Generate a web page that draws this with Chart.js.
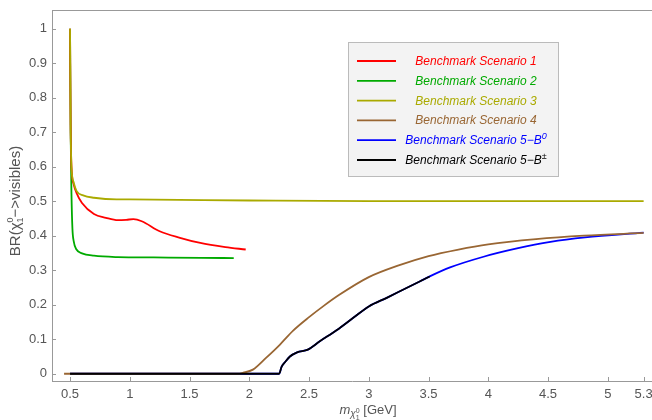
<!DOCTYPE html>
<html>
<head>
<meta charset="utf-8">
<script src="https://cdn.jsdelivr.net/npm/chart.js@4.4.1/dist/chart.umd.min.js"></script>
<style>
html,body{margin:0;padding:0;background:#fff;}
canvas{display:block;}
</style>
</head>
<body>
<canvas id="c" width="652" height="420"></canvas>
<script>
// ---- data ----
const s1X = [0.5, 0.505, 0.512, 0.53, 0.554, 0.6, 0.7, 0.8, 0.9, 0.97, 1.03, 1.1, 1.25, 1.42, 1.59, 1.8, 1.97];
const s1Y = [1.0, 0.72, 0.6, 0.55, 0.524, 0.495, 0.463, 0.452, 0.445, 0.446, 0.448, 0.442, 0.413, 0.394, 0.379, 0.367, 0.36];

const s2X = [0.5, 0.505, 0.512, 0.52, 0.53, 0.554, 0.6, 0.7, 0.9, 1.2, 1.6, 1.87];
const s2Y = [1.0, 0.70, 0.52, 0.42, 0.385, 0.36, 0.349, 0.342, 0.338, 0.337, 0.336, 0.335];

const s3X = [0.5, 0.505, 0.512, 0.53, 0.554, 0.61, 0.7, 0.89, 1.0, 2.0, 3.0, 5.3];
const s3Y = [1.0, 0.72, 0.6, 0.555, 0.53, 0.517, 0.51, 0.505, 0.505, 0.502, 0.5, 0.5];

const s4X = [0.45, 1.9, 1.95, 2.03, 2.14, 2.255, 2.367, 2.5, 2.62, 2.75, 3.0, 3.25, 3.5, 3.75, 4.0, 4.4, 4.8, 5.3];
const s4Y = [0, 0, 0.003, 0.012, 0.046, 0.084, 0.125, 0.164, 0.196, 0.228, 0.28, 0.314, 0.341, 0.36, 0.375, 0.39, 0.4, 0.408];

const s5B0X = [0.5, 2.25, 2.27, 2.3, 2.34, 2.4, 2.49, 2.59, 2.73, 2.87, 3.0, 3.15, 3.29, 3.43, 3.51, 3.68, 3.96, 4.24, 4.52, 4.81, 5.3];
const s5B0Y = [0, 0, 0.02, 0.034, 0.05, 0.062, 0.07, 0.094, 0.126, 0.162, 0.195, 0.22, 0.244, 0.268, 0.282, 0.308, 0.339, 0.363, 0.382, 0.395, 0.409];

const s5BpmX = [0.5, 2.25, 2.27, 2.3, 2.34, 2.4, 2.49, 2.59, 2.73, 2.87, 3.0, 3.15, 3.29, 3.43, 3.51];
const s5BpmY = [0, 0, 0.02, 0.034, 0.05, 0.062, 0.07, 0.094, 0.126, 0.162, 0.195, 0.22, 0.244, 0.268, 0.282];

const legendLabels = ['Benchmark Scenario 1', 'Benchmark Scenario 2', 'Benchmark Scenario 3', 'Benchmark Scenario 4', 'Benchmark Scenario 5\u2212B', 'Benchmark Scenario 5\u2212B'];
const legendSup = ['', '', '', '', '0', '\u00b1'];

const xTicks = [0.5, 1, 1.5, 2, 2.5, 3, 3.5, 4, 4.5, 5, 5.3];
const xTickLabels = ['0.5', '1', '1.5', '2', '2.5', '3', '3.5', '4', '4.5', '5', '5.3'];
const yTicks = [0, 0.1, 0.2, 0.3, 0.4, 0.5, 0.6, 0.7, 0.8, 0.9, 1];
const yTickLabels = ['0', '0.1', '0.2', '0.3', '0.4', '0.5', '0.6', '0.7', '0.8', '0.9', '1'];

// ---- styling ----
const colors = ['#ff0000', '#00aa00', '#aaaa00', 'rgb(153,102,51)', '#0000ff', '#000000'];
const FONT = "'Liberation Sans', Arial, sans-serif";
const AXIS_COLOR = '#999999';
const TEXT_COLOR = '#555555';

function pts(xs, ys) { return xs.map((x, i) => ({x: x, y: ys[i]})); }
const seriesX = [s1X, s2X, s3X, s4X, s5B0X, s5BpmX];
const seriesY = [s1Y, s2Y, s3Y, s4Y, s5B0Y, s5BpmY];
// drawing order: lower order drawn on top
const drawOrder = [3, 4, 1, 5, 6, 0];

const datasets = seriesX.map((xs, i) => ({
  label: legendLabels[i] + legendSup[i],
  data: pts(xs, seriesY[i]),
  borderColor: colors[i],
  backgroundColor: colors[i],
  borderWidth: 1.8,
  pointRadius: 0,
  pointHoverRadius: 0,
  fill: false,
  cubicInterpolationMode: 'monotone',
  order: drawOrder[i]
}));

function drawParts(ctx, parts, x, y, align) {
  let total = 0;
  parts.forEach(p => { ctx.font = p.font; p.w = ctx.measureText(p.text).width; total += p.w; });
  let cx = align === 'center' ? x - total / 2 : x;
  parts.forEach(p => {
    p.x = cx;
    ctx.font = p.font;
    ctx.fillStyle = p.color;
    ctx.textAlign = 'left';
    ctx.textBaseline = 'alphabetic';
    ctx.fillText(p.text, cx, y + (p.dy || 0));
    cx += p.w;
  });
  return parts;
}

const decor = {
  id: 'decor',
  afterDraw(chart) {
    const ctx = chart.ctx;
    const a = chart.chartArea;
    const xs = chart.scales.x, ys = chart.scales.y;
    ctx.save();
    // top frame line
    ctx.strokeStyle = AXIS_COLOR;
    ctx.lineWidth = 1;
    ctx.beginPath();
    ctx.moveTo(a.left, Math.round(a.top) + 0.5);
    ctx.lineTo(a.right, Math.round(a.top) + 0.5);
    ctx.stroke();
    // inward ticks
    ctx.beginPath();
    xTicks.forEach(v => {
      const px = Math.round(xs.getPixelForValue(v)) + 0.5;
      ctx.moveTo(px, a.bottom);
      ctx.lineTo(px, a.bottom - 4);
    });
    yTicks.forEach(v => {
      const py = Math.round(ys.getPixelForValue(v)) + 0.5;
      ctx.moveTo(a.left, py);
      ctx.lineTo(a.left + 4, py);
    });
    ctx.stroke();

    // legend box
    const bx = 348.5, by = 42.5, bw = 210, bh = 134;
    ctx.fillStyle = '#f3f3f3';
    ctx.fillRect(bx, by, bw, bh);
    ctx.strokeStyle = '#bbbbbb';
    ctx.strokeRect(bx, by, bw, bh);
    for (let i = 0; i < legendLabels.length; i++) {
      const ry = 61 + i * 19.8;
      ctx.strokeStyle = colors[i];
      ctx.lineWidth = 1.8;
      ctx.beginPath();
      ctx.moveTo(357, ry);
      ctx.lineTo(396, ry);
      ctx.stroke();
      const parts = [{text: legendLabels[i], font: 'italic 12px ' + FONT, color: colors[i]}];
      if (legendSup[i]) parts.push({text: legendSup[i], font: 'italic 9px ' + FONT, color: colors[i], dy: -5});
      drawParts(ctx, parts, 476, ry + 4, 'center');
    }

    // x-axis title
    const xp = drawParts(ctx, [
      {text: 'm', font: 'italic 13px ' + FONT, color: TEXT_COLOR},
      {text: '\u03c7', font: 'italic 10px ' + FONT, color: TEXT_COLOR, dy: 3},
      {text: '0', font: '7px ' + FONT, color: TEXT_COLOR, dy: -1},
      {text: ' [GeV]', font: '13px ' + FONT, color: TEXT_COLOR}
    ], 368, 414, 'center');
    ctx.font = '7px ' + FONT;
    ctx.fillStyle = TEXT_COLOR;
    ctx.fillText('1', xp[2].x, 414 + 6);

    // y-axis title (rotated)
    ctx.translate(15, 201);
    ctx.rotate(-Math.PI / 2);
    const yp = drawParts(ctx, [
      {text: 'BR(\u03c7', font: '15px ' + FONT, color: TEXT_COLOR},
      {text: '0', font: '9px ' + FONT, color: TEXT_COLOR, dy: -7},
      {text: '\u2212>visibles)', font: '15px ' + FONT, color: TEXT_COLOR}
    ], 0, 5, 'center');
    ctx.font = '9px ' + FONT;
    ctx.fillStyle = TEXT_COLOR;
    ctx.fillText('1', yp[1].x, 5 + 3);
    ctx.restore();
  }
};

new Chart(document.getElementById('c').getContext('2d'), {
  type: 'line',
  data: {datasets: datasets},
  options: {
    responsive: false,
    animation: false,
    events: [],
    layout: {padding: {top: 10, right: 0, left: 0, bottom: 0}},
    plugins: {legend: {display: false}, tooltip: {enabled: false}, title: {display: false}},
    scales: {
      x: {
        type: 'linear',
        min: 0.349,
        max: 5.37,
        afterBuildTicks: s => { s.ticks = xTicks.map(v => ({value: v})); },
        afterFit: s => { s.height = 39; s.paddingLeft = 0; s.paddingRight = 0; },
        ticks: {
          autoSkip: false,
          maxRotation: 0,
          padding: 6,
          color: TEXT_COLOR,
          font: {family: FONT, size: 13},
          callback: (v) => { const i = xTicks.indexOf(v); return i >= 0 ? xTickLabels[i] : ''; }
        },
        grid: {display: true, drawOnChartArea: false, drawTicks: false, tickLength: 0},
        border: {display: true, color: AXIS_COLOR, width: 1}
      },
      y: {
        type: 'linear',
        min: -0.021,
        max: 1.054,
        afterBuildTicks: s => { s.ticks = yTicks.map(v => ({value: v})); },
        afterFit: s => { s.width = 52; s.paddingTop = 0; s.paddingBottom = 0; },
        ticks: {
          autoSkip: false,
          padding: 5,
          color: TEXT_COLOR,
          font: {family: FONT, size: 13},
          callback: (v) => { const i = yTicks.findIndex(t => Math.abs(t - v) < 1e-9); return i >= 0 ? yTickLabels[i] : ''; }
        },
        grid: {display: true, drawOnChartArea: false, drawTicks: false, tickLength: 0},
        border: {display: true, color: AXIS_COLOR, width: 1}
      }
    }
  },
  plugins: [decor]
});
</script>
</body>
</html>
